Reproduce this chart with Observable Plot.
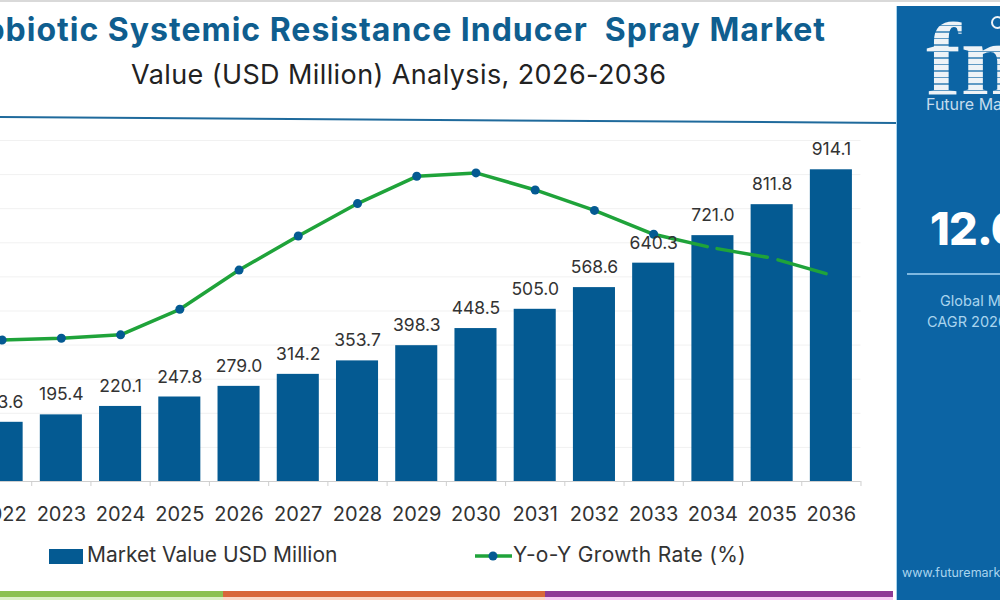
<!DOCTYPE html>
<html><head><meta charset="utf-8">
<script src="https://cdn.jsdelivr.net/npm/d3@7"></script>
<script src="https://cdn.jsdelivr.net/npm/@observablehq/plot@0.6"></script>
<style>
html,body{margin:0;padding:0;background:#fff;width:1000px;height:600px;overflow:hidden;position:relative;font-family:Inter,"Open Sans",sans-serif}
#top{position:absolute;left:0;top:0;width:1000px;height:2px;background:#d9d9d9}
#title{position:absolute;right:174px;top:10px;white-space:nowrap;font:700 32px Inter,sans-serif;color:#0f5e8f;letter-spacing:1px}
#sub{position:absolute;left:131px;top:58px;white-space:nowrap;font:400 27px Inter,sans-serif;color:#222;letter-spacing:.4px}
#chart{position:absolute;left:-27.6px;top:0}
#rule{position:absolute;left:0;top:0}
.strip{position:absolute;top:591px;height:6px}
.under{position:absolute;top:597px;height:3px}
#panel{position:absolute;left:896px;top:6px;width:104px;height:594px;background:#0c64a4;color:#fff;overflow:hidden;box-shadow:inset 1px 0 0 #a9d4ee}
#panel div{position:absolute;white-space:nowrap}
#legend div{position:absolute;white-space:nowrap}
#logo{background:repeating-linear-gradient(#eef3f7 0 5px,#5f9ac4 5px 6.5px);-webkit-background-clip:text;background-clip:text;color:transparent}
</style></head><body>
<div id="top"></div>
<div id="title">Probiotic Systemic Resistance Inducer&nbsp; Spray Market</div>
<div id="sub">Value (USD Million) Analysis, 2026-2036</div>
<div id="chart"></div>
<div id="legend"></div>
<div class="strip" style="left:0;width:223px;background:#8cc152"></div>
<div class="strip" style="left:223px;width:322px;background:#d8673a"></div>
<div class="strip" style="left:545px;width:348px;background:#8e3a96"></div>
<div class="under" style="left:0;width:223px;background:#dcf0c8"></div>
<div class="under" style="left:223px;width:322px;background:#fbd9c8"></div>
<div class="under" style="left:545px;width:348px;background:#f6cdf4"></div>
<div id="panel">
  <div id="logo" style="left:30px;top:1px;font:700 104px 'Liberation Serif',serif;line-height:104px;">fmi</div>
  <div style="left:95px;top:10px;width:9px;height:9px;border:2px solid #eef3f7;border-radius:50%"></div>
  <div style="left:30px;top:88px;font:400 16px Inter,sans-serif;color:#c4dcee">Future Market Insights</div>
  <div style="left:34px;top:195px;font:800 45px Inter,sans-serif;letter-spacing:-.8px">12.6%</div>
  <div style="left:11px;top:267px;width:93px;height:2px;background:#7fb8e0"></div>
  <div style="left:44px;top:286px;font:400 14.5px Inter,sans-serif;color:#a9d4ee">Global Market</div>
  <div style="left:31px;top:307px;font:400 14.5px Inter,sans-serif;color:#a9d4ee">CAGR 2026-2036</div>
  <div style="left:6px;top:559px;font:400 12.5px Inter,sans-serif;color:#a9d4ee">www.futuremarketinsights.com</div>
</div>
<script>
const years = [2022,2023,2024,2025,2026,2027,2028,2029,2030,2031,2032,2033,2034,2035,2036];
const marketValue = [173.6,195.4,220.1,247.8,279.0,314.2,353.7,398.3,448.5,505.0,568.6,640.3,721.0,811.8,914.1];
const growthRate = [8.3,8.4,8.6,10.1,12.4,14.4,16.3,17.9,18.1,17.1,15.9,14.5,13.7,13.1,12.1];
const growthAxisMax = 20;
const gridTicks = [0,100,200,300,400,500,600,700,800,900,1000];
const rows = years.map((year,i)=>({year,value:marketValue[i],growth:growthRate[i]*1000/growthAxisMax}));
const solid = rows.filter(d=>d.year<=2033);
const dashed = rows.filter(d=>d.year>=2033);
const barColor="#045a92", lineColor="#1fa33a";
const plot = Plot.plot({
  width:888.5, height:600,
  marginLeft:0, marginRight:0, marginTop:140, marginBottom:119,
  style:{background:"transparent",overflow:"visible"},
  x:{type:"band",domain:years,paddingInner:0.29,paddingOuter:0.145,round:false,label:null},
  y:{domain:[0,1000],label:null},
  marks:[
    Plot.ruleY(gridTicks,{stroke:"#f1f1f1",strokeWidth:1}),
    Plot.barY(rows,{x:"year",y:"value",fill:barColor}),
    Plot.ruleY([0],{stroke:"#cfcfcf"}),
    Plot.axisY({ticks:[],label:null,tickSize:0}),
    Plot.axisX({tickSize:0,tickPadding:25,fontSize:20,fontFamily:"Inter",fill:"#333",label:null,tickFormat:d=>String(d)}),
    Plot.axisX({text:null,tickSize:5,dx:29.6,stroke:"#cfcfcf",label:null}),
    Plot.line(solid,{x:"year",y:"growth",stroke:lineColor,strokeWidth:3.5}),
    Plot.line(dashed,{x:"year",y:"growth",stroke:lineColor,strokeWidth:3.5,strokeDasharray:"55,10,51,11,50"}),
    Plot.dot(solid,{x:"year",y:"growth",r:4.5,fill:barColor}),
    Plot.text(rows,{x:"year",y:"value",text:d=>d.value.toFixed(1),dy:-20,fontSize:17.5,fontFamily:"Inter",fill:"#333"})
  ]
});
document.getElementById("chart").append(plot);

const ns="http://www.w3.org/2000/svg";
const deco=document.createElementNS(ns,"svg");
deco.setAttribute("id","rule");deco.setAttribute("width",896);deco.setAttribute("height",600);
deco.innerHTML=`<line x1="0" y1="117" x2="896" y2="123" stroke="#1f6a9c" stroke-width="2"/>
<rect x="49" y="549" width="34" height="15" fill="${barColor}"/>
<line x1="475" y1="556" x2="512" y2="556" stroke="${lineColor}" stroke-width="3.5"/>
<circle cx="493" cy="556" r="4.5" fill="${barColor}"/>`;
document.body.append(deco);
const lg=document.getElementById("legend");
lg.innerHTML=`<div style="left:87px;top:542px;font:400 21px Inter,sans-serif;color:#333">Market Value USD Million</div>
<div style="left:513px;top:542px;font:400 21px Inter,sans-serif;color:#333;letter-spacing:.3px">Y-o-Y Growth Rate (%)</div>`;
</script>
</body></html>
